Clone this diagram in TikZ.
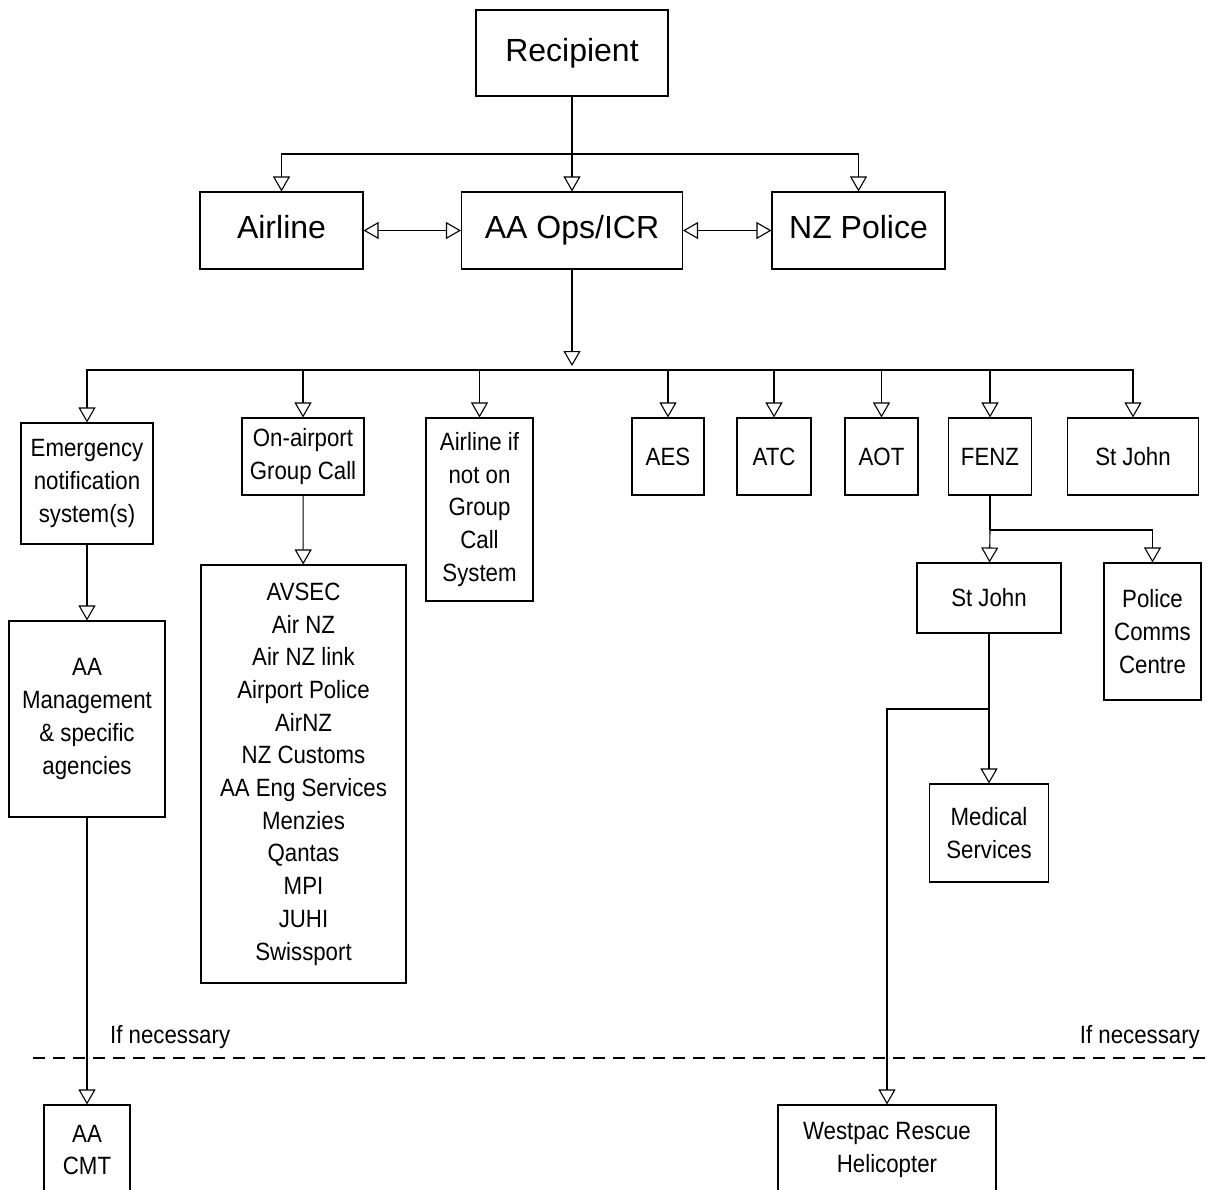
\documentclass[tikz,border=0pt]{standalone}
\usepackage{fontspec}
\setmainfont{Liberation Sans}
\newfontfamily\narrowfont[FakeStretch=0.89]{Liberation Sans}
\usetikzlibrary{calc,arrows.meta,positioning}

\tikzset{
  bigbox/.style={draw, line width=1.1pt, inner sep=0pt, align=center,
    text height=23pt, text depth=7pt, font=\fontsize{32}{40}\selectfont},
  smallbox/.style={draw, line width=1.1pt, inner sep=0pt, align=center,
    font=\narrowfont\fontsize{25}{32.7}\selectfont},
  note/.style={font=\narrowfont\fontsize{25}{32.7}\selectfont, inner sep=0pt},
  arr/.style={line width=1.1pt, -{Triangle[open, length=15pt, width=17pt]}},
  arrboth/.style={line width=1.1pt, {Triangle[open, length=15pt, width=17pt]}-{Triangle[open, length=15pt, width=17pt]}},
  link/.style={line width=1.1pt},
}

\begin{document}
\begin{tikzpicture}[x=1pt, y=-1pt]

    \useasboundingbox (0,0) rectangle (1209,1189);
    \clip (0,0) rectangle (1209,1189);

    % top rows
    \node[bigbox, minimum width=192pt, minimum height=86pt] (recip) at (572,53) {Recipient};
    \node[bigbox, minimum width=163pt, minimum height=77pt] (airline) at (281.5,230.5) {Airline};
    \node[bigbox, minimum width=221pt, minimum height=77pt] (aaops) at (572,230.5) {AA Ops/ICR};
    \node[bigbox, minimum width=173pt, minimum height=77pt] (nzpol) at (858.5,230.5) {NZ Police};

    \coordinate (busA) at (572,154);
    \coordinate (busB) at (572,370);

    % second row
    \node[smallbox, minimum width=132pt, minimum height=121pt] (emerg) at (87,483.5) {Emergency\\notification\\system(s)};
    \node[smallbox, minimum width=122pt, minimum height=77pt] (onair) at (303,456.5) {On-airport\\Group Call};
    \node[smallbox, minimum width=107pt, minimum height=183pt] (alnot) at (479.5,509.5) {Airline if\\not on\\Group\\Call\\System};
    \node[smallbox, minimum width=72pt, minimum height=77pt] (aes) at (668,456.5) {AES};
    \node[smallbox, minimum width=74pt, minimum height=77pt] (atc) at (774,456.5) {ATC};
    \node[smallbox, minimum width=73pt, minimum height=77pt] (aot) at (881.5,456.5) {AOT};
    \node[smallbox, minimum width=83pt, minimum height=77pt] (fenz) at (990,456.5) {FENZ};
    \node[smallbox, minimum width=131pt, minimum height=77pt] (stjohn) at (1133,456.5) {St John};

    % lower boxes
    \node[smallbox, minimum width=156pt, minimum height=196pt] (aamgmt) at (87,719) {AA\\Management\\\& specific\\agencies};
    \node[smallbox, minimum width=205pt, minimum height=418pt] (groupcall) at (303.5,774)
      {AVSEC\\Air NZ\\Air NZ link\\Airport Police\\AirNZ\\NZ Customs\\AA Eng Services\\Menzies\\Qantas\\MPI\\JUHI\\Swissport};
    \node[smallbox, minimum width=144pt, minimum height=70pt] (stjtwo) at (989,598) {St John};
    \node[smallbox, minimum width=97pt, minimum height=137pt] (polcc) at (1152.5,631.5) {Police\\Comms\\Centre};
    \node[smallbox, minimum width=119pt, minimum height=98pt] (medic) at (989,833) {Medical\\Services};

    \coordinate (fenzsplit) at (990,530);
    \coordinate (stjsplit) at (989,709);

    % below the line
    \draw[link, dashed, dash pattern=on 12pt off 8pt] (33,1058) -- (1209,1058);
    \node[note, anchor=west] (ifnecL) at (110,1037) {If necessary};
    \node[note, anchor=east] (ifnecR) at (1200,1037) {If necessary};

    \node[smallbox, minimum width=86pt, minimum height=90pt] (aacmt) at (87,1150) {AA\\CMT};
    \node[smallbox, minimum width=218pt, minimum height=90pt] (westpac) at (887,1150) {Westpac Rescue\\Helicopter};

    % connectors
    \draw[arr] (recip) -- (aaops);
    \draw[arr] (busA) -| (airline);
    \draw[arr] (busA) -| (nzpol);
    \draw[arrboth] (airline) -- (aaops);
    \draw[arrboth] (aaops) -- (nzpol);

    \draw[arr, shorten >=4pt] (aaops) -- (busB);
    \foreach \n in {emerg,onair,alnot,aes,atc,aot,fenz,stjohn}
      \draw[arr] (busB) -| (\n);

    \draw[arr] (emerg) -- (aamgmt);
    \draw[arr] (onair) -- (groupcall);
    \draw[arr] (aamgmt) -- (aacmt);

    \draw[link] (fenz) -- (fenzsplit);
    \draw[arr] (fenzsplit) -- (stjtwo);
    \draw[arr] (fenzsplit) -| (polcc);

    \draw[arr] (stjtwo) -- (medic);
    \draw[arr] (stjsplit) -| (westpac);

\end{tikzpicture}
\end{document}
